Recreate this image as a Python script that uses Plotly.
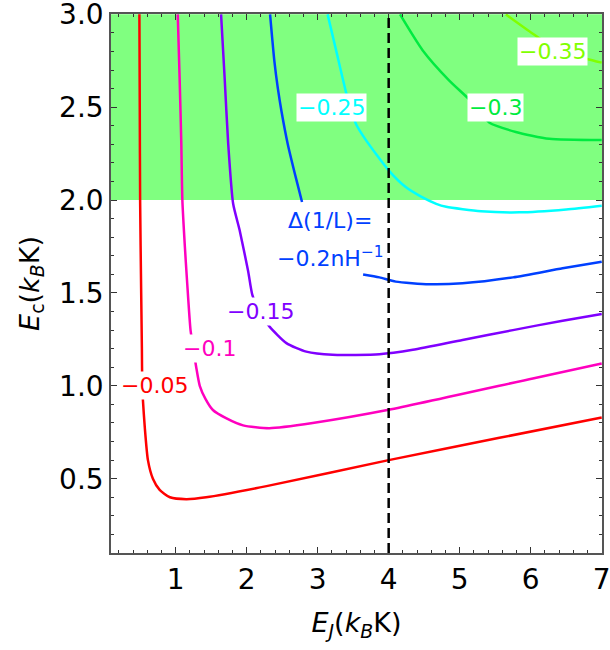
import plotly.graph_objects as go

# ---------------- data ----------------
levels = ["−0.05", "−0.1", "−0.15", "−0.2", "−0.25", "−0.3", "−0.35"]
colors = ["rgb(255,0,0)", "rgb(255,0,191)", "rgb(128,0,255)", "rgb(0,64,255)",
          "rgb(0,255,255)", "rgb(0,235,64)", "rgb(128,255,0)"]

x_m005 = [0.49, 0.495, 0.50, 0.515, 0.525, 0.53, 0.54, 0.565, 0.61, 0.68, 0.775, 0.92, 1.15, 1.43, 2.28, 4.0, 5.56, 7.0]
y_m005 = [3.0, 2.5, 2.0, 1.5, 1.2, 1.0, 0.92, 0.78, 0.60, 0.50, 0.44, 0.40, 0.39, 0.40, 0.46, 0.60, 0.72, 0.83]

x_m010 = [1.03, 1.056, 1.08, 1.095, 1.13, 1.16, 1.21, 1.25, 1.29, 1.34, 1.42, 1.525, 1.71, 1.95, 2.32, 2.93, 4.0, 6.03, 7.0]
y_m010 = [3.0, 2.66, 2.305, 2.0, 1.75, 1.57, 1.30, 1.20, 1.10, 1.0, 0.93, 0.87, 0.826, 0.787, 0.772, 0.80, 0.871, 1.04, 1.12]

x_m015 = [1.64, 1.69, 1.74, 1.81, 1.90, 2.02, 2.08, 2.18, 2.32, 2.56, 2.84, 3.21, 3.87, 4.34, 5.04, 5.75, 6.45, 7.0]
y_m015 = [3.0, 2.66, 2.305, 1.98, 1.84, 1.62, 1.49, 1.40, 1.32, 1.23, 1.184, 1.167, 1.17, 1.194, 1.247, 1.30, 1.351, 1.387]

x_m020 = [2.33, 2.39, 2.44, 2.49, 2.58, 2.70, 2.78, None, 3.64, 3.87, 4.10, 4.57, 5.04, 5.75, 6.45, 7.0]
y_m020 = [3.0, 2.75, 2.60, 2.48, 2.30, 2.11, 1.99, None, 1.60, 1.584, 1.561, 1.547, 1.552, 1.584, 1.633, 1.668]

x_m025 = [3.14, 3.26, 3.40, 3.47, 3.54, 3.68, 4.0, 4.24, 4.45, 4.67, 4.81, 5.3, 5.84, 6.5, 7.0]
y_m025 = [3.0, 2.806, 2.58, 2.49, 2.41, 2.323, 2.16, 2.07, 2.02, 1.98, 1.964, 1.94, 1.934, 1.95, 1.97]

x_m030 = [4.16, 4.48, 4.85, 5.14, 5.3, 5.42, 5.79, 6.26, 7.0]
y_m030 = [3.0, 2.806, 2.645, 2.54, 2.47, 2.416, 2.367, 2.33, 2.323]

x_m035 = [5.65, 6.03, 6.4, 6.79, 7.0]
y_m035 = [3.0, 2.896, 2.80, 2.76, 2.74]

contour_x = [x_m005, x_m010, x_m015, x_m020, x_m025, x_m030, x_m035]
contour_y = [y_m005, y_m010, y_m015, y_m020, y_m025, y_m030, y_m035]

# label positions (data coords)
label_x = [0.70, 1.48, 2.19, None, 3.20, 5.50, 6.30]
label_y = [1.00, 1.20, 1.40, None, 2.50, 2.50, 2.80]
blue_label_lines = ["Δ(1/L)=", "−0.2nH<sup>−1</sup>"]
blue_label_x = [3.18, 3.18]
blue_label_y = [1.892, 1.694]

shade_band = [2.0, 3.0]
dashed_x = 4.0
x_range = [0.09, 7.004]
y_range = [0.1, 3.002]
x_ticks = [1, 2, 3, 4, 5, 6, 7]
y_ticks = [0.5, 1.0, 1.5, 2.0, 2.5, 3.0]

FONT = "DejaVu Sans"

fig = go.Figure()

for xs, ys, c in zip(contour_x, contour_y, colors):
    fig.add_trace(go.Scatter(x=xs, y=ys, mode="lines",
                             line=dict(color=c, width=2.5, shape="spline", smoothing=0.6),
                             connectgaps=False, showlegend=False, hoverinfo="skip"))

# shaded band
fig.add_shape(type="rect", xref="paper", x0=0, x1=1, yref="y", y0=shade_band[0], y1=shade_band[1],
              fillcolor="#80FF80", line=dict(width=0), layer="below")
# dashed vertical line
fig.add_shape(type="line", xref="x", x0=dashed_x, x1=dashed_x, yref="paper", y0=0, y1=1,
              line=dict(color="black", width=2.5, dash="10px,5px"), layer="above")

for lx, ly, txt, c in zip(label_x, label_y, levels, colors):
    if lx is None:
        continue
    fig.add_annotation(x=lx, y=ly, xref="x", yref="y", text=txt, showarrow=False,
                       bgcolor="white", borderpad=1,
                       font=dict(family=FONT, size=22, color=c))

for lx, ly, txt in zip(blue_label_x, blue_label_y, blue_label_lines):
    fig.add_annotation(x=lx, y=ly, xref="x", yref="y", text=txt, showarrow=False,
                       font=dict(family=FONT, size=22, color=colors[3]))

axis_common = dict(showgrid=False, zeroline=False, showline=True, linecolor="#555", linewidth=1.5,
                   mirror="allticks", ticks="inside", ticklen=6, tickcolor="#333", tickwidth=1.2,
                   ticklabeloverflow="allow",
                   tickfont=dict(family=FONT, size=28, color="black"))

fig.update_xaxes(range=x_range, tickvals=x_ticks, ticktext=[str(v) for v in x_ticks],
                 minor=dict(dtick=0.2, tick0=0, ticks="inside", ticklen=3, tickcolor="#333"),
                 title=dict(text="<i>E</i><sub><i>J</i></sub>(<i>k</i><sub><i>B</i></sub>K)",
                            font=dict(family=FONT, size=27, color="black"), standoff=18),
                 ticklabelstandoff=1,
                 **axis_common)
fig.update_yaxes(range=y_range, tickvals=y_ticks, ticktext=[f"{v:.1f}" for v in y_ticks],
                 minor=dict(dtick=0.1, tick0=0, ticks="inside", ticklen=3, tickcolor="#333"),
                 title=dict(text="<i>E</i><sub>c</sub>(<i>k</i><sub><i>B</i></sub>K)",
                            font=dict(family=FONT, size=27, color="black"), standoff=12),
                 **axis_common)

fig.update_layout(width=610, height=650, margin=dict(l=111, r=8, t=14, b=97, autoexpand=False),
                  plot_bgcolor="white", paper_bgcolor="white", showlegend=False)

# remove the default page margin so the figure fills the 610x650 window exactly
fig.write_html("out.html", config={"displayModeBar": False},
               post_script="document.body.style.margin='0px';")
